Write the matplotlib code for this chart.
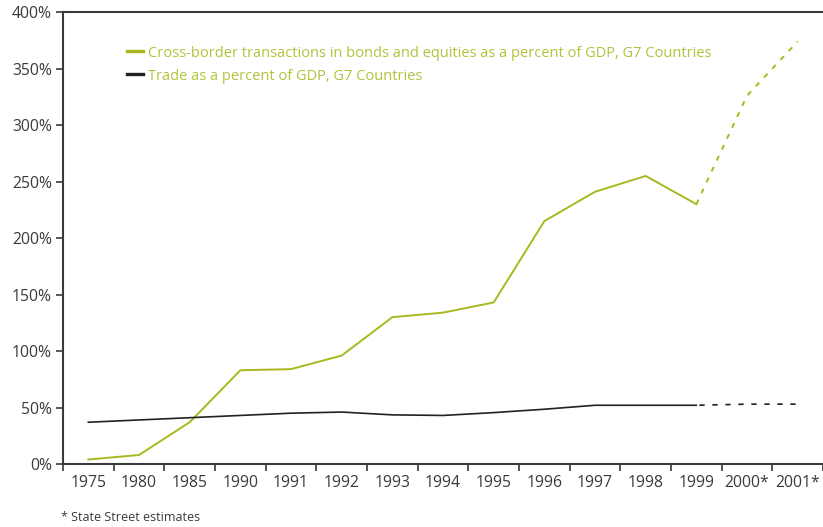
import matplotlib
matplotlib.use("Agg")
import matplotlib.pyplot as plt
import numpy as np

plt.rcParams["font.family"] = ["Open Sans", "DejaVu Sans"]

years = ["1975", "1980", "1985", "1990", "1991", "1992", "1993", "1994",
         "1995", "1996", "1997", "1998", "1999", "2000*", "2001*"]
# 跨境债券股票交易占 GDP 比例（%），最后两年为估计值
cross_border = [4, 8, 37, 83, 84, 96, 130, 134, 143, 215, 241, 255, 230, 326, 374]
# 贸易占 GDP 比例（%）
trade = [37, 39, 41, 43, 45, 46, 43.5, 43, 45.5, 48.5, 52, 52, 52, 53, 53]
n_actual = 13  # 1999 及以前为实际值

GREEN = "#a9b81e"
TEXT_GREEN = "#b3c23a"
BLACK = "#222222"
GRAY = "#3a3a3a"

fig = plt.figure(figsize=(8.23, 5.27), dpi=100)
ax = fig.add_axes([0.0766, 0.1195, 0.9234, 0.8575])

x = np.arange(len(years))
ax.plot(x[:n_actual], cross_border[:n_actual], color=GREEN, lw=1.4)
ax.plot(x[n_actual - 1:], cross_border[n_actual - 1:], color=GREEN, lw=1.4,
        linestyle=(0, (2.6, 3.6)))
ax.plot(x[:n_actual], trade[:n_actual], color=BLACK, lw=1.2)
ax.plot(x[n_actual - 1:], trade[n_actual - 1:], color=BLACK, lw=1.2,
        linestyle=(6, (3.2, 4.6)))

ax.set_xlim(-0.5, len(years) - 0.5)
ax.set_ylim(0, 400)

ax.set_xticks(x)
ax.set_xticklabels(years)
ax.set_xticks(np.arange(-0.5, len(years)), minor=True)
ax.tick_params(axis="x", which="major", length=0, pad=8, labelsize=11.3,
               labelcolor=GRAY)
ax.tick_params(axis="x", which="minor", length=5, width=1.2, color=GRAY,
               direction="out")

ax.set_yticks(np.arange(0, 401, 50))
ax.set_yticklabels([f"{v}%" for v in range(0, 401, 50)])
ax.tick_params(axis="y", length=5, width=1.2, color=GRAY, pad=3,
               labelsize=11.3, labelcolor=GRAY)

for side in ("left", "bottom", "top"):
    ax.spines[side].set_color(GRAY)
    ax.spines[side].set_linewidth(1.5)
ax.spines["right"].set_visible(False)

leg = ax.legend(
    handles=[ax.lines[0], ax.lines[2]],
    labels=["Cross-border transactions in bonds and equities as a percent of GDP, G7 Countries",
            "Trade as a percent of GDP, G7 Countries"],
    loc="upper left", bbox_to_anchor=(0.067, 0.955), frameon=False,
    fontsize=10.5, handlelength=1.1, handletextpad=0.35, labelspacing=0.55,
    labelcolor=TEXT_GREEN)
for h in leg.legend_handles:
    h.set_linewidth(2.4)

fig.text(0.074, 0.012, "* State Street estimates", fontsize=9, color=GRAY)

fig.savefig("out.png", dpi=100)
